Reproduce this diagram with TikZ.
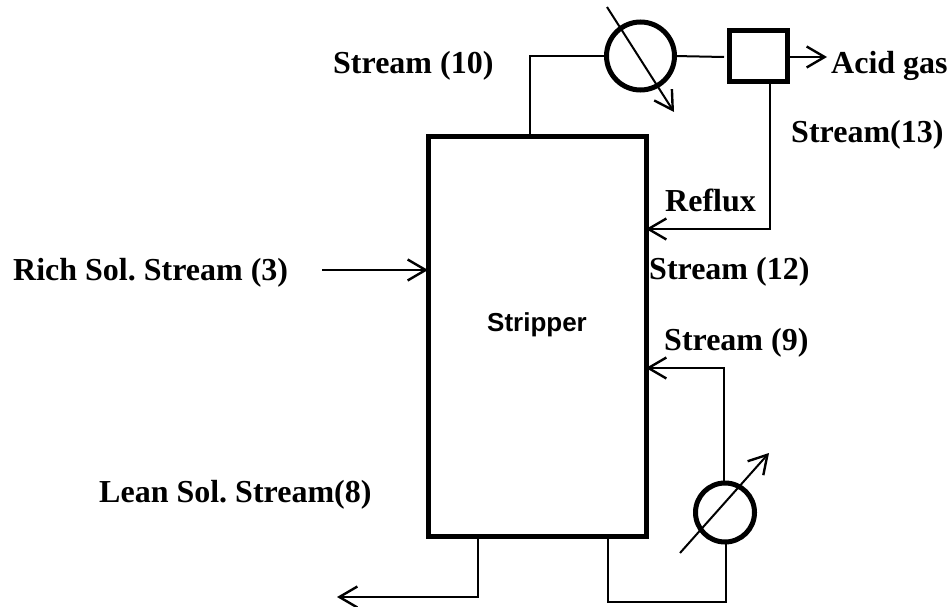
\documentclass[tikz,border=0pt]{standalone}
\usepackage{fontspec}
\setmainfont{Liberation Serif}
\newfontfamily\labelsans{Liberation Sans}
\usetikzlibrary{calc,arrows.meta}
\tikzset{
  pipe/.style={line width=2pt},
  flow/.style={pipe,-{Straight Barb[length=18pt,width=21pt,line width=2.4pt]}},
  heavy/.style={draw,line width=5pt,outer sep=0pt,inner sep=0pt},
  exchanger/.style={heavy,circle,minimum size=68pt},
  streamlabel/.style={anchor=base west,inner sep=0pt,font=\fontsize{32}{34}\selectfont\bfseries\frenchspacing}
}
\begin{document}
\begin{tikzpicture}[x=1pt,y=-1pt]
  \useasboundingbox (0,0) rectangle (952,607);

  \node[heavy,minimum width=218pt,minimum height=400pt] (column) at (537,336) {};
  \node[exchanger] (condenser) at (640.5,56) {};
  \node[heavy,minimum width=58pt,minimum height=51pt] (drum) at (758.5,56) {};
  \node[exchanger,minimum size=59pt] (reboiler) at (725,512.5) {};
  \node[anchor=base,font=\labelsans\fontsize{26}{28}\selectfont\bfseries] (stripper) at (537,331) {Stripper};

  % Overhead and reflux
  \coordinate (top) at (530,135);
  \coordinate (reflux) at (646,229);
  \coordinate (drumout) at (770,82);
  \coordinate (acid) at (827,57);
  \draw[pipe] (top) |- (condenser.west);
  \draw[pipe] (condenser.east) -- (724,57);
  \draw[flow] (790,57) -- (acid);
  \draw[flow] (drumout) |- (reflux);
  \draw[flow] (607,7) -- (674,112);

  % Feed and bottoms
  \coordinate (feed) at (322,270);
  \coordinate (feedin) at (428,270);
  \coordinate (bottom) at (478,536);
  \coordinate (lean) at (337,597);
  \draw[flow] (feed) -- (feedin);
  \draw[flow] (bottom) |- (lean);

  % Reboiler loop
  \coordinate (loopout) at (608,536);
  \coordinate (boilup) at (646,368);
  \draw[pipe] (loopout) -- (608,601.5) -| (726,542);
  \draw[flow] (724,483) |- (boilup);
  \draw[flow] (680,553) -- (769,453);

  \node[streamlabel] (s10) at (333,74) {Stream (10)};
  \node[streamlabel] (acidlabel) at (831,74) {Acid gas};
  \node[streamlabel] (s13) at (791,142) {Stream(13)};
  \node[streamlabel] (refluxlabel) at (665,211) {Reflux};
  \node[streamlabel] (s3) at (13,280) {Rich Sol. Stream (3)};
  \node[streamlabel] (s12) at (649,279) {Stream (12)};
  \node[streamlabel] (s9) at (664,350) {Stream (9)};
  \node[streamlabel] (s8) at (99,502) {Lean Sol. Stream(8)};
\end{tikzpicture}
\end{document}
